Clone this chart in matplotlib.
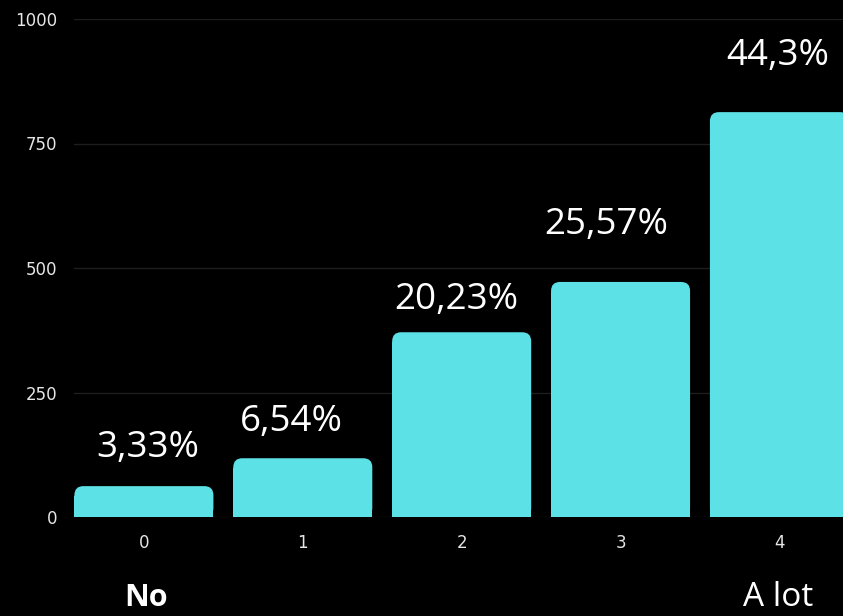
import matplotlib
matplotlib.use("Agg")
import matplotlib.pyplot as plt
from matplotlib.patches import FancyBboxPatch, Rectangle

categories = ["0", "1", "2", "3", "4"]
counts = [62, 118, 371, 472, 813]
pct_labels = ["3,33%", "6,54%", "20,23%", "25,57%", "44,3%"]
yticks = [0, 250, 500, 750, 1000]

# label offsets (points) from each bar top
label_dx = [2.5, -8, -4, -10, -1.5]
label_dy = [21, 19.5, 17, 34.5, 34]

bar_color = "#5CE1E6"
bar_w = 0.875

fig = plt.figure(figsize=(8.43, 6.16), dpi=100, facecolor="black")
ax = fig.add_axes([74 / 843, 99 / 616, 1 - 74 / 843, 498 / 616])
ax.set_facecolor("black")
ax.set_xlim(-0.44, 4.40)
ax.set_ylim(0, 1000)

x = list(range(len(categories)))
bars = ax.bar(x, counts, width=bar_w, color=bar_color)

# data units per pixel, so the rounded corners stay circular
xu = (4.40 + 0.44) / (843 - 74)
yu = 1000 / 498
r_px = 9
for b in bars:
    b.set_visible(False)
    bx, bw, bh = b.get_x(), b.get_width(), b.get_height()
    ax.add_patch(FancyBboxPatch((bx, 0), bw, bh,
                                boxstyle=f"round,pad=0,rounding_size={r_px * xu}",
                                mutation_aspect=yu / xu,
                                facecolor=bar_color, edgecolor="none", zorder=3))
    ax.add_patch(Rectangle((bx, 0), bw, bh - r_px * yu * 1.1,
                           facecolor=bar_color, edgecolor="none", zorder=3))

for i, (b, lab) in enumerate(zip(bars, pct_labels)):
    ax.annotate(lab, (b.get_x() + b.get_width() / 2, b.get_height()),
                xytext=(label_dx[i], label_dy[i]), textcoords="offset points",
                ha="center", va="baseline", color="white", fontsize=26.5,
                family="Open Sans", zorder=4)

ax.set_yticks(yticks)
ax.set_xticks(x)
ax.set_xticklabels(categories)
ax.grid(axis="y", color="#1e1e1e", linewidth=1, zorder=0)
ax.set_axisbelow(True)
for s in ax.spines.values():
    s.set_visible(False)
ax.tick_params(axis="both", length=0, colors="#e6e6e6", labelsize=12)
ax.tick_params(axis="x", pad=12)
ax.tick_params(axis="y", pad=12)

fig.text(146 / 843, 1 - 606 / 616, "No", color="white", fontsize=22,
         fontweight="bold", family="Open Sans", ha="center", va="baseline")
fig.text(778 / 843, 1 - 606 / 616, "A lot", color="white", fontsize=24,
         family="Open Sans", ha="center", va="baseline")

fig.savefig("out.png", dpi=100, facecolor="black")
